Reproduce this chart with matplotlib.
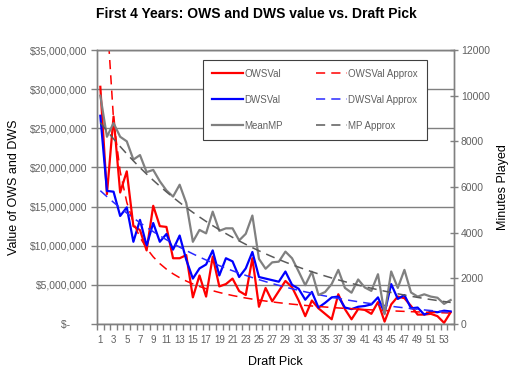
import numpy as np
import matplotlib.pyplot as plt

plt.rcParams['font.family'] = ['Liberation Sans', 'DejaVu Sans']

# draft picks 1..54
picks = np.arange(1, 55)

# offensive win share value, $ millions
ows_val = [30.3, 16.6, 26.5, 16.8, 19.5, 12.5, 12.0, 9.4, 15.1, 12.5,
           12.4, 8.4, 8.4, 8.8, 3.4, 6.2, 3.5, 8.6, 4.8, 5.1,
           5.8, 4.2, 3.7, 8.4, 2.2, 4.6, 2.9, 4.2, 5.5, 4.7,
           3.0, 1.0, 3.0, 2.0, 1.3, 0.6, 3.8, 1.9, 0.6, 1.9,
           1.8, 1.3, 2.8, 0.3, 2.5, 3.5, 3.3, 2.3, 1.2, 1.2,
           1.3, 1.0, 0.15, 1.5]
# defensive win share value, $ millions
dws_val = [26.6, 17.0, 16.9, 13.8, 14.9, 10.5, 13.3, 10.0, 12.9, 10.5,
           11.5, 9.5, 11.3, 8.2, 5.8, 7.1, 7.6, 9.4, 6.2, 8.4,
           8.0, 6.0, 7.1, 9.2, 6.0, 5.8, 5.6, 5.4, 6.7, 5.0,
           4.5, 3.1, 4.1, 2.1, 2.7, 3.4, 3.5, 2.1, 1.9, 2.2,
           2.3, 2.5, 3.4, 1.4, 5.1, 3.2, 3.7, 2.0, 2.1, 1.2,
           1.6, 1.5, 1.7, 1.6]
# mean minutes played
mean_mp = [10000, 8200, 8800, 8200, 8000, 7200, 7400, 6650, 6750, 6250,
           5850, 5580, 6100, 5300, 3600, 4120, 3970, 4920, 4080, 4190,
           4190, 3660, 3950, 4750, 2850, 2420, 2700, 2730, 3170, 2880,
           2300, 1700, 2290, 1270, 1400, 1750, 2370, 1580, 1370, 1950,
           1600, 1450, 2180, 430, 2300, 1580, 2370, 1380, 1200, 1300,
           1200, 1150, 880, 1050]

ows = np.array(ows_val) * 1e6
dws = np.array(dws_val) * 1e6
mp = np.array(mean_mp, dtype=float)


# excel style trendlines
def power_fit(x, y):
    b, a = np.polyfit(np.log(x), np.log(y), 1)
    return np.exp(a) * x ** b


def expo_fit(x, y):
    k, a = np.polyfit(x, np.log(y), 1)
    return np.exp(a + k * x)


grey = '#808080'
txt = '#606060'
dash = (0, (6, 4))

fig = plt.figure(figsize=(5.12, 3.71), dpi=100)
ax = fig.add_axes([0.1895, 0.1267, 0.6972, 0.7385])
ax2 = ax.twinx()

l1, = ax.plot(picks, ows, color='#ff0000', lw=1.6, label='OWSVal')
l2, = ax.plot(picks, dws, color='#0000ff', lw=1.6, label='DWSVal')
l4, = ax.plot(picks, power_fit(picks, ows), color='#ff0000', lw=1.1,
              ls=dash, label='OWSVal Approx')
l5, = ax.plot(picks, expo_fit(picks, dws), color='#2a2aff', lw=1.1,
              ls=dash, label='DWSVal Approx')
l3, = ax2.plot(picks, mp, color=grey, lw=1.6, label='MeanMP')
l6, = ax2.plot(picks, expo_fit(picks, mp), color='#5a5a5a', lw=1.1,
               ls=dash, label='MP Approx')

# left axis
ax.set_ylim(0, 35e6)
ax.set_yticks(np.arange(0, 35e6 + 1, 5e6))
ax.yaxis.set_major_formatter(
    lambda v, p: '$-      ' if v == 0 else '${:,.0f}'.format(v))
ax.yaxis.grid(True, color=grey, lw=1)
ax.set_axisbelow(True)
ax.tick_params(axis='y', direction='out', length=4, width=1, color=grey,
               labelcolor=txt, labelsize=7.5, pad=3)
ax.set_ylabel('Value of OWS and DWS', fontsize=9, labelpad=7)

# x axis
ax.set_xlim(0.5, 54.5)
ax.set_xticks(picks[::2])
ax.set_xticks(np.arange(0.5, 55, 1), minor=True)
ax.tick_params(axis='x', which='major', length=0, labelcolor=txt,
               labelsize=7, pad=8)
ax.tick_params(axis='x', which='minor', direction='out', length=4,
               width=1, color=grey)
ax.set_xlabel('Draft Pick', fontsize=9, labelpad=8)

# right axis
ax2.set_ylim(0, 12000)
ax2.set_yticks(np.arange(0, 12001, 2000))
ax2.tick_params(axis='y', direction='inout', length=6, width=1, color=grey,
                labelcolor=txt, labelsize=7.5, pad=2)
ax2.set_ylabel('Minutes Played', fontsize=9, labelpad=5)

for a in (ax, ax2):
    for s in a.spines.values():
        s.set_color(grey)
        s.set_linewidth(1)

fig.suptitle('First 4 Years: OWS and DWS value vs. Draft Pick',
             fontsize=10, fontweight='bold', x=0.5, y=0.98)

leg = ax2.legend(handles=[l1, l2, l3, l4, l5, l6], ncol=2,
                 loc='upper left', bbox_to_anchor=(0.297, 0.9635),
                 fontsize=7, frameon=True, fancybox=False, framealpha=1,
                 edgecolor='#404040', borderpad=0.9, labelspacing=1.65,
                 handlelength=3.2, handletextpad=0.15, columnspacing=3.4,
                 borderaxespad=0)
leg.get_frame().set_linewidth(0.8)
for t in leg.get_texts():
    t.set_color(txt)

plt.savefig('out.png', dpi=100)
